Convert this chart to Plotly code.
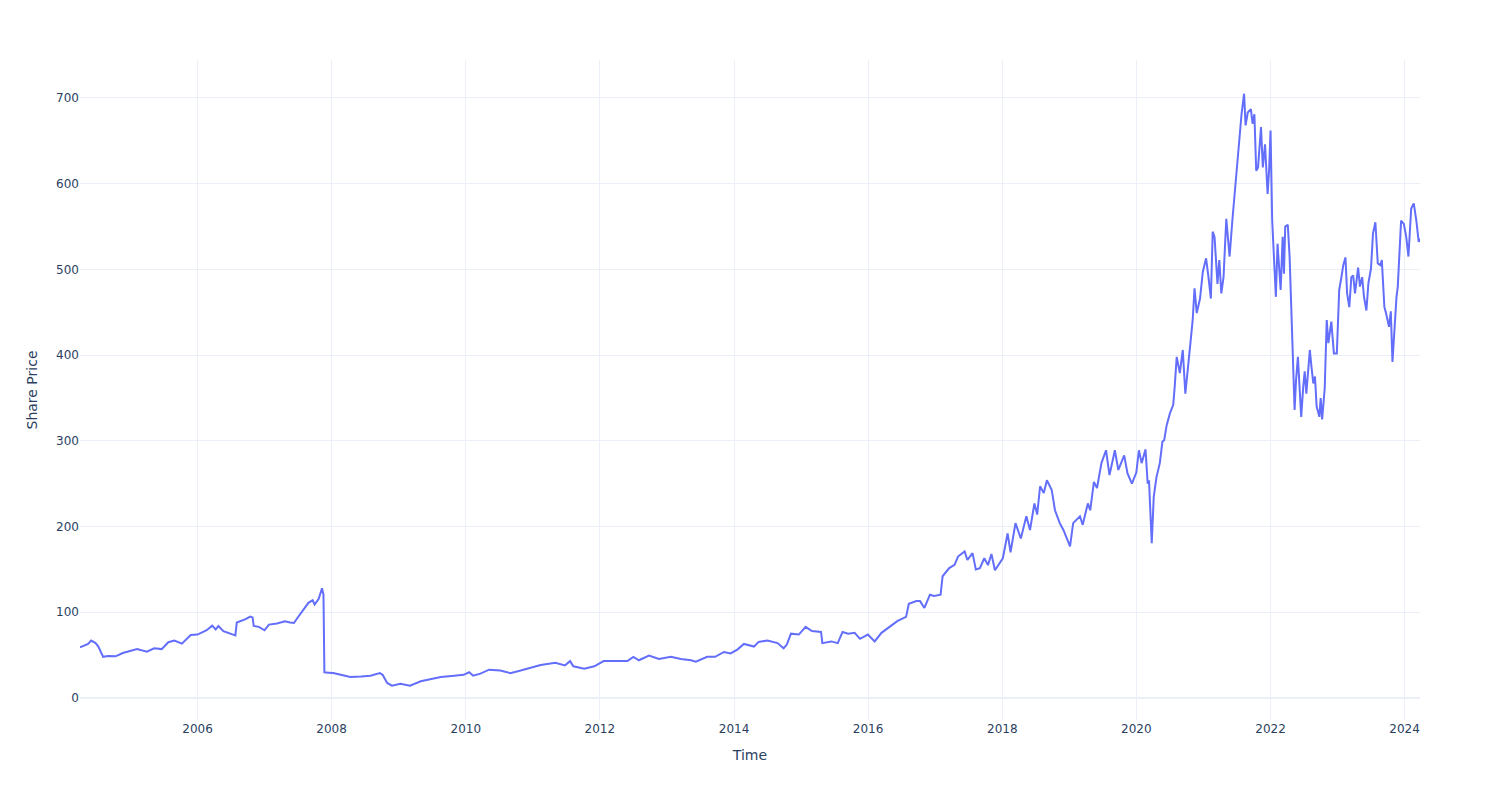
import plotly.graph_objects as go

dates = [
    "2004-04-01", "2004-04-20", "2004-05-15", "2004-06-01", "2004-06-25", "2004-07-10", "2004-08-05", "2004-09-01", "2004-10-12", "2004-11-20",
    "2005-02-06", "2005-03-31", "2005-05-10", "2005-06-20", "2005-07-26", "2005-08-28", "2005-10-08", "2005-11-25",
    "2006-01-01", "2006-02-20", "2006-03-22", "2006-04-10", "2006-04-25", "2006-05-22", "2006-07-08", "2006-07-26", "2006-08-03", "2006-08-25",
    "2006-09-20", "2006-10-15", "2006-10-28", "2006-11-03", "2006-12-01",
    "2007-01-01", "2007-01-25", "2007-03-10", "2007-04-22", "2007-05-20", "2007-06-10", "2007-07-05", "2007-08-03", "2007-08-28", "2007-09-20",
    "2007-10-01", "2007-10-23", "2007-11-10", "2007-11-18", "2007-11-23", "2007-12-15",
    "2008-01-10", "2008-02-20", "2008-04-12", "2008-06-10", "2008-07-31", "2008-09-20", "2008-10-05", "2008-10-30", "2008-11-25",
    "2009-01-10", "2009-03-03", "2009-05-01", "2009-06-25", "2009-08-18", "2009-10-30", "2009-12-20",
    "2010-01-20", "2010-02-10", "2010-03-22", "2010-05-08", "2010-07-08", "2010-09-01", "2010-10-27", "2010-12-20",
    "2011-02-13", "2011-05-04", "2011-06-01", "2011-06-25", "2011-07-23", "2011-08-10", "2011-10-08", "2011-12-02",
    "2012-01-22", "2012-03-18", "2012-05-30", "2012-07-02", "2012-08-01", "2012-09-25", "2012-11-18",
    "2013-01-22", "2013-03-18", "2013-05-12", "2013-06-07", "2013-08-08", "2013-09-20", "2013-11-07", "2013-12-13",
    "2014-01-19", "2014-02-24", "2014-04-20", "2014-05-15", "2014-07-02", "2014-08-26", "2014-09-28", "2014-10-15", "2014-11-07", "2014-12-20",
    "2015-01-26", "2015-03-01", "2015-04-20", "2015-04-27", "2015-06-14", "2015-07-20", "2015-08-15", "2015-09-15", "2015-10-20", "2015-11-18", "2015-12-31",
    "2016-02-06", "2016-03-14", "2016-05-05", "2016-06-10", "2016-07-26", "2016-08-10", "2016-09-20", "2016-10-10", "2016-11-03", "2016-12-03", "2016-12-25",
    "2017-01-30", "2017-02-10", "2017-03-18", "2017-04-16", "2017-05-05", "2017-06-10", "2017-06-25", "2017-07-23", "2017-08-10", "2017-09-01",
    "2017-09-25", "2017-10-15", "2017-11-03", "2017-11-22", "2017-12-16",
    "2018-01-04", "2018-01-30", "2018-02-15", "2018-03-14", "2018-04-12", "2018-05-12", "2018-06-01", "2018-06-25", "2018-07-10", "2018-07-26",
    "2018-08-15", "2018-09-01", "2018-09-27", "2018-10-15", "2018-11-10", "2018-11-30",
    "2019-01-05", "2019-01-22", "2019-02-28", "2019-03-15", "2019-04-12", "2019-04-25", "2019-05-15", "2019-06-01", "2019-06-25", "2019-07-20",
    "2019-08-08", "2019-09-06", "2019-09-25", "2019-10-27", "2019-11-14", "2019-12-08",
    "2020-01-01", "2020-01-15", "2020-01-30", "2020-02-20", "2020-03-03", "2020-03-10", "2020-03-25", "2020-04-05", "2020-04-20", "2020-05-08",
    "2020-05-22", "2020-06-01", "2020-06-14", "2020-07-02", "2020-07-20", "2020-07-28", "2020-08-08", "2020-08-25", "2020-09-10", "2020-09-24",
    "2020-10-08", "2020-10-23", "2020-11-03", "2020-11-13", "2020-11-25", "2020-12-13", "2020-12-28",
    "2021-01-15", "2021-01-28", "2021-02-10", "2021-02-20", "2021-03-02", "2021-03-18", "2021-03-28", "2021-04-08", "2021-04-20", "2021-05-05",
    "2021-05-23", "2021-06-07", "2021-06-21", "2021-07-08", "2021-07-20", "2021-07-27", "2021-08-10", "2021-08-18", "2021-08-30", "2021-09-16",
    "2021-09-25", "2021-10-05", "2021-10-15", "2021-10-25", "2021-11-10", "2021-11-20", "2021-12-02", "2021-12-16", "2021-12-24",
    "2022-01-01", "2022-01-10", "2022-01-20", "2022-01-30", "2022-02-08", "2022-02-18", "2022-02-25", "2022-03-08", "2022-03-15", "2022-03-22",
    "2022-04-05", "2022-04-15", "2022-04-25", "2022-05-02", "2022-05-12", "2022-05-20", "2022-05-30", "2022-06-08", "2022-06-17", "2022-06-28",
    "2022-07-06", "2022-07-15", "2022-08-03", "2022-08-12", "2022-08-22", "2022-08-31", "2022-09-09", "2022-09-24", "2022-10-01", "2022-10-09",
    "2022-10-23", "2022-11-03", "2022-11-12", "2022-11-28", "2022-12-12", "2022-12-28",
    "2023-01-10", "2023-01-22", "2023-02-01", "2023-02-13", "2023-02-22", "2023-03-06", "2023-03-17", "2023-03-27", "2023-04-06", "2023-04-23",
    "2023-05-03", "2023-05-15", "2023-05-25", "2023-06-07", "2023-06-18", "2023-07-02", "2023-07-13", "2023-07-26", "2023-08-08", "2023-08-22",
    "2023-08-30", "2023-09-13", "2023-09-22", "2023-10-08", "2023-10-18", "2023-10-27", "2023-11-05", "2023-11-18", "2023-11-25", "2023-12-06",
    "2023-12-13", "2023-12-28",
    "2024-01-10", "2024-01-22", "2024-02-06", "2024-02-20", "2024-03-05", "2024-03-18", "2024-03-25",
]

share_price = [
    59, 61, 63, 67, 64, 60, 48, 49, 48.6, 52.5,
    57, 54, 58, 57, 65, 67, 63.4, 73.5,
    74, 79, 84.4, 80, 84, 78, 75, 73, 88, 89.5,
    92, 95, 94, 84, 83,
    79, 85.6, 87, 89.5, 88, 87.5, 95, 103, 111, 114,
    109, 115.6, 128, 120.6, 30, 29.5,
    29, 27, 24.5, 25, 26, 29, 27, 17.5, 14.4,
    16.7, 14.4, 19.5, 22, 24.5, 26, 27,
    30, 26, 28.4, 33, 32, 29, 32, 35,
    38.5, 41, 39, 38, 43, 37, 34, 37,
    43, 43, 43, 48, 44, 49.4, 45.5,
    48, 45.5, 44, 42.4, 48, 48, 53.7, 52,
    56.4, 63, 60, 65.4, 67, 64, 58, 62, 75, 74,
    83, 78, 77, 64, 66, 64, 77, 75, 76, 69, 74,
    66, 76, 84.5, 90, 94.6, 110, 113, 113, 105, 120.5, 119,
    120.5, 142, 151.5, 155.4, 165, 171, 161, 169, 150, 151.5,
    163, 155, 168, 149, 157,
    163, 192, 170, 204, 186, 212, 196, 227, 214, 247,
    239, 254, 243, 219, 204, 196,
    177, 204, 212, 202, 227, 219, 252, 245, 274, 289,
    260, 289, 266, 283, 262, 250,
    263, 289, 274, 290, 250, 254, 180.6, 235, 258, 274,
    299, 301, 318, 332, 342, 363, 398, 379, 406, 355,
    382, 417, 441, 478, 449, 466, 497,
    513, 491, 466, 544, 538, 483, 511, 472, 491, 559,
    515, 557, 592, 639, 670, 681, 705, 668, 683, 687,
    670, 681, 615, 619, 666, 619, 646, 588, 615,
    662, 557, 515, 468, 530, 499, 476, 538, 495, 550,
    552, 514, 440, 398, 336, 371, 398, 363, 328, 363,
    381, 355, 406, 386, 367, 375, 340, 328, 350, 325,
    361, 441, 414, 439, 402, 402,
    476, 491, 505, 514, 472, 456, 491, 493, 472, 502,
    480, 491, 468, 452, 484, 501, 542, 555, 507, 505,
    511, 456, 449, 433, 451, 392, 429, 468, 480, 526,
    557, 553,
    538, 515, 571, 577, 557, 532, 536,
]

fig = go.Figure(
    go.Scatter(
        x=dates,
        y=share_price,
        mode="lines",
        line=dict(color="#636efa", width=2),
        name="Share Price",
    )
)

fig.update_layout(
    template="plotly_white",
    width=1500,
    height=800,
    font=dict(family="DejaVu Sans"),
    margin=dict(t=60, l=80, r=80, b=80),
    showlegend=False,
    xaxis=dict(title=dict(text="Time")),
    yaxis=dict(title=dict(text="Share Price"), range=[-25.7, 744.3]),
)

fig.write_html("out.html")
